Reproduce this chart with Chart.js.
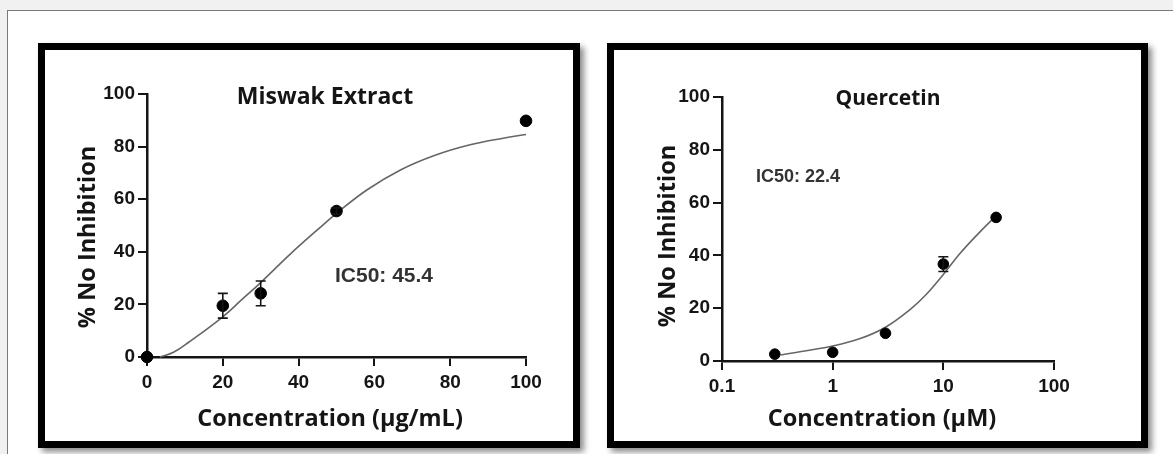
<!DOCTYPE html>
<html>
<head>
<meta charset="utf-8">
<script src="https://cdn.jsdelivr.net/npm/chart.js@4.4.1/dist/chart.umd.min.js"></script>
<style>
  html, body { margin: 0; padding: 0; }
  body { width: 1173px; height: 454px; background: #f1f1f1; position: relative; overflow: hidden; }
  .sheet { position: absolute; left: 7px; top: 10px; right: -2px; bottom: -2px; background: #fff;
           border-top: 1px solid #7a7a7a; border-left: 1px solid #7a7a7a; }
  .panel { position: absolute; top: 43px; height: 405px; box-sizing: border-box; border: 7px solid #000;
           background: #fff; box-shadow: 4px 4px 6px rgba(0,0,0,0.45); }
  .panel canvas { position: absolute; left: 0; top: 0; }
</style>
</head>
<body>
<div class="sheet"></div>
<div class="panel" style="left:38px; width:542px;"><canvas id="miswakChart" width="528" height="391"></canvas></div>
<div class="panel" style="left:607px; width:541px;"><canvas id="quercetinChart" width="527" height="391"></canvas></div>

<script>
const miswakConc = [0, 20, 30, 50, 100];
const miswakInhib = [0, 19.5, 24.2, 55.5, 89.8];
const miswakErr = [0, 4.7, 4.7, 1.2, 0];
const miswakFitConc = [3.4, 7, 11, 20, 25, 30, 38, 45, 50, 58, 67, 76, 85, 94, 100];
const miswakFitInhib = [0, 1.8, 5.6, 15.3, 21.8, 28.3, 39.4, 48.4, 54.6, 63.5, 71.2, 76.7, 80.6, 83.2, 84.6];
const miswakTicksX = [0, 20, 40, 60, 80, 100];

// Quercetin: measured points and fitted curve (log concentration axis)
const quercetinConc = [0.3, 1, 3, 10, 30];
const quercetinInhib = [2.6, 3.3, 10.5, 36.7, 54.4];
const quercetinErr = [0, 0, 0, 2.8, 0];
const quercetinFitConc = [0.34, 1, 1.8, 3, 5, 7, 10, 14, 20, 30];
const quercetinFitInhib = [2.3, 5.7, 8.6, 12.8, 19.5, 25.2, 32.8, 40.5, 47.6, 55];
const quercetinTicksX = [0.1, 1, 10, 100];

const yTicks = [0, 20, 40, 60, 80, 100];

const INK = '#151515';
const tickFont = { family: 'Liberation Sans', size: 19, weight: 'bold' };

function pairs(xs, ys) {
    return xs.map((x, i) => ({ x: x, y: ys[i] }));
}

// error bars drawn through the chart's own scales
const errorBars = {
    id: 'errorBars',
    afterDatasetsDraw(chart, args, opts) {
        const ctx = chart.ctx;
        const xs = chart.scales.x, ys = chart.scales.y;
        ctx.save();
        ctx.strokeStyle = INK;
        ctx.lineWidth = 1.6;
        opts.conc.forEach((c, i) => {
            const e = opts.err[i];
            if (!e) return;
            const px = xs.getPixelForValue(c);
            const top = ys.getPixelForValue(opts.val[i] + e);
            const bot = ys.getPixelForValue(opts.val[i] - e);
            ctx.beginPath();
            ctx.moveTo(px, top); ctx.lineTo(px, bot);
            ctx.moveTo(px - 5, top); ctx.lineTo(px + 5, top);
            ctx.moveTo(px - 5, bot); ctx.lineTo(px + 5, bot);
            ctx.stroke();
        });
        ctx.restore();
    }
};

// titles, axis titles and IC50 notes
const panelText = {
    id: 'panelText',
    afterDraw(chart, args, opts) {
        const ctx = chart.ctx;
        ctx.save();
        ctx.textAlign = 'center';
        ctx.textBaseline = 'middle';
        opts.items.forEach(t => {
            ctx.save();
            ctx.font = t.font;
            ctx.fillStyle = t.color || INK;
            ctx.translate(t.x, t.y);
            if (t.rot) ctx.rotate(t.rot);
            ctx.fillText(t.text, 0, 0);
            ctx.restore();
        });
        ctx.restore();
    }
};

function makeChart(id, cfg) {
    return new Chart(document.getElementById(id), {
        type: 'scatter',
        data: {
            datasets: [
                {
                    data: pairs(cfg.conc, cfg.val),
                    backgroundColor: '#000',
                    borderColor: '#000',
                    pointRadius: cfg.radius,
                    pointHoverRadius: cfg.radius,
                    showLine: false,
                    clip: false,
                    order: 0
                },
                {
                    type: 'line',
                    data: pairs(cfg.fitConc, cfg.fitVal),
                    borderColor: '#666',
                    borderWidth: 1.6,
                    pointRadius: 0,
                    tension: 0.4,
                    fill: false,
                    clip: false,
                    order: 1
                }
            ]
        },
        options: {
            responsive: false,
            animation: false,
            events: [],
            layout: { padding: cfg.padding },
            scales: {
                x: {
                    type: cfg.xType,
                    position: 'bottom',
                    min: cfg.xMin,
                    max: cfg.xMax,
                    afterBuildTicks: s => { s.ticks = cfg.xTicks.map(v => ({ value: v })); },
                    afterFit: s => { s.height = cfg.xHeight; },
                    ticks: {
                        color: INK,
                        font: tickFont,
                        padding: 5,
                        maxRotation: 0,
                        autoSkip: false,
                        callback: v => String(v)
                    },
                    grid: { drawOnChartArea: false, drawTicks: true, tickLength: 9, color: INK, lineWidth: 2 },
                    border: { display: true, color: INK, width: 2.5 }
                },
                y: {
                    min: 0,
                    max: 100,
                    afterBuildTicks: s => { s.ticks = yTicks.map(v => ({ value: v })); },
                    afterFit: s => { s.width = cfg.yWidth; },
                    ticks: { color: INK, font: tickFont, padding: 3 },
                    grid: { drawOnChartArea: false, drawTicks: true, tickLength: 9, color: INK, lineWidth: 2 },
                    border: { display: true, color: INK, width: 2.5 }
                }
            },
            plugins: {
                legend: { display: false },
                tooltip: { enabled: false },
                errorBars: { conc: cfg.conc, val: cfg.val, err: cfg.err },
                panelText: { items: cfg.text }
            }
        },
        plugins: [errorBars, panelText]
    });
}

const axisFont = 'bold 23.5px "Open Sans"';

makeChart('miswakChart', {
    conc: miswakConc, val: miswakInhib, err: miswakErr,
    fitConc: miswakFitConc, fitVal: miswakFitInhib,
    xType: 'linear', xMin: 0, xMax: 100, xTicks: miswakTicksX,
    radius: 5.8,
    padding: { left: 0, top: 44, right: 47, bottom: 0 },
    yWidth: 102, xHeight: 84,
    text: [
        { text: 'Miswak Extract', x: 280, y: 47, font: 'bold 23px "Open Sans"' },
        { text: 'IC50: 45.4', x: 339, y: 226, font: 'bold 21px "Liberation Sans"', color: '#333' },
        { text: '% No Inhibition', x: 43, y: 187, font: axisFont, rot: -Math.PI / 2 },
        { text: 'Concentration (µg/mL)', x: 285, y: 369, font: axisFont }
    ]
});

makeChart('quercetinChart', {
    conc: quercetinConc, val: quercetinInhib, err: quercetinErr,
    fitConc: quercetinFitConc, fitVal: quercetinFitInhib,
    xType: 'logarithmic', xMin: 0.1, xMax: 100, xTicks: quercetinTicksX,
    radius: 5.3,
    padding: { left: 0, top: 47, right: 87, bottom: 0 },
    yWidth: 108, xHeight: 80,
    text: [
        { text: 'Quercetin', x: 274, y: 49, font: 'bold 21px "Open Sans"' },
        { text: 'IC50: 22.4', x: 184, y: 127, font: 'bold 18px "Liberation Sans"', color: '#333' },
        { text: '% No Inhibition', x: 54, y: 186, font: axisFont, rot: -Math.PI / 2 },
        { text: 'Concentration (µM)', x: 268, y: 369, font: axisFont }
    ]
});
</script>
</body>
</html>
